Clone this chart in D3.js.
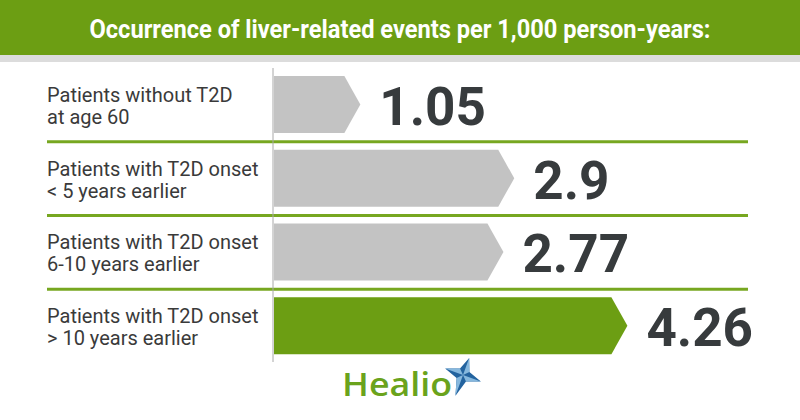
<!DOCTYPE html>
<html>
<head>
<meta charset="utf-8">
<script src="https://cdn.jsdelivr.net/npm/d3@7"></script>
<style>
  body { margin: 0; background: #fff; }
  svg { display: block; }
</style>
</head>
<body>
<div class="container"></div>
<script>
// data
var categories = ["without60", "lt5", "6to10", "gt10"];
var labelLines = [
  ["Patients without T2D", "at age 60"],
  ["Patients with T2D onset", "< 5 years earlier"],
  ["Patients with T2D onset", "6-10 years earlier"],
  ["Patients with T2D onset", "> 10 years earlier"]
];
var values = [1.05, 2.9, 2.77, 4.26];
var valueLabels = ["1.05", "2.9", "2.77", "4.26"];
var highlight = [false, false, false, true];
var title = "Occurrence of liver-related events per 1,000 person-years:";

var width = 800, height = 420;
var green = "#6c9e13";
var lineGreen = "#77a720";
var grey = "#c3c3c3";
var dark = "#373b3d";

var svg = d3.select(".container").append("svg")
  .attr("width", width).attr("height", height);

// header band
svg.append("rect").attr("x", 0).attr("y", 0).attr("width", width).attr("height", 55).attr("fill", green);
svg.append("rect").attr("x", 0).attr("y", 55).attr("width", width).attr("height", 7).attr("fill", "#dcdcdc");
svg.append("text")
  .attr("x", 400).attr("y", 38)
  .attr("text-anchor", "middle")
  .attr("fill", "#fff")
  .attr("font-family", "Roboto, sans-serif")
  .attr("font-weight", "bold")
  .attr("font-size", 25)
  .attr("textLength", 621)
  .attr("lengthAdjust", "spacingAndGlyphs")
  .text(title);

var x = d3.scaleLinear().domain([0, 4.26]).range([273, 627.4]);
var y = d3.scaleBand().domain(categories).range([68, 363]);
var notch = 16;
var barInset = 8, barH = 57;

// separators between rows
svg.selectAll(".sep")
  .data(categories.slice(1))
  .enter().append("line")
  .attr("class", "sep")
  .attr("x1", 47).attr("x2", 748)
  .attr("y1", function(d){ return y(d); })
  .attr("y2", function(d){ return y(d); })
  .attr("stroke", lineGreen).attr("stroke-width", 3);

// vertical axis line
svg.append("line")
  .attr("x1", x(0)).attr("x2", x(0))
  .attr("y1", y.range()[0]).attr("y2", y.range()[1] - 1)
  .attr("stroke", "#a8a8a8").attr("stroke-width", 1);

function arrowPath(v, cat) {
  var x0 = x(0) + 1, x1 = x(v);
  var t = y(cat) + barInset, b = t + barH, m = (t + b) / 2;
  return "M" + x0 + "," + t + "L" + (x1 - notch) + "," + t + "L" + x1 + "," + m +
         "L" + (x1 - notch) + "," + b + "L" + x0 + "," + b + "Z";
}

svg.selectAll(".bar")
  .data(values)
  .enter().append("path")
  .attr("class", "bar")
  .attr("d", function(d, i){ return arrowPath(d, categories[i]); })
  .attr("fill", function(d, i){ return highlight[i] ? green : grey; });

svg.selectAll(".val")
  .data(values)
  .enter().append("text")
  .attr("class", "val")
  .attr("x", function(d){ return x(d) + 19; })
  .attr("y", function(d, i){ return y(categories[i]) + y.bandwidth() / 2 + 20; })
  .attr("fill", dark)
  .attr("font-family", "Roboto, sans-serif")
  .attr("font-weight", "bold")
  .attr("font-size", 53)
  .text(function(d, i){ return valueLabels[i]; });

// category labels
var lab = svg.selectAll(".lab")
  .data(labelLines)
  .enter().append("text")
  .attr("class", "lab")
  .attr("fill", "#3a3a3a")
  .attr("font-family", "Roboto, sans-serif")
  .attr("font-size", 20);
lab.each(function(lines, i){
  var mid = y(categories[i]) + y.bandwidth() / 2;
  d3.select(this).selectAll("tspan")
    .data(lines)
    .enter().append("tspan")
    .attr("x", 47)
    .attr("y", function(d, j){ return mid - 3 + j * 22; })
    .text(function(d){ return d; });
});

// Healio logo
svg.append("text")
  .attr("x", 342).attr("y", 396)
  .attr("fill", "#6aa31c")
  .attr("font-family", "'Open Sans', sans-serif")
  .attr("font-weight", 600)
  .attr("font-size", 33)
  .attr("textLength", 110)
  .attr("lengthAdjust", "spacingAndGlyphs")
  .text("Healio");
var star = svg.append("g").attr("transform", "translate(463,375) rotate(20)");
star.append("path")
  .attr("d", "M0,-18 L5,-5 L19,0 L5,5 L0,22 L-5,5 L-19,0 L-5,-5 Z")
  .attr("fill", "#23639f");
star.append("path")
  .attr("d", "M0,-18 L5,-5 L0,0 Z M19,0 L5,5 L0,0 Z M0,22 L-5,5 L0,0 Z M-19,0 L-5,-5 L0,0 Z")
  .attr("fill", "#86b8de");
</script>
</body>
</html>
